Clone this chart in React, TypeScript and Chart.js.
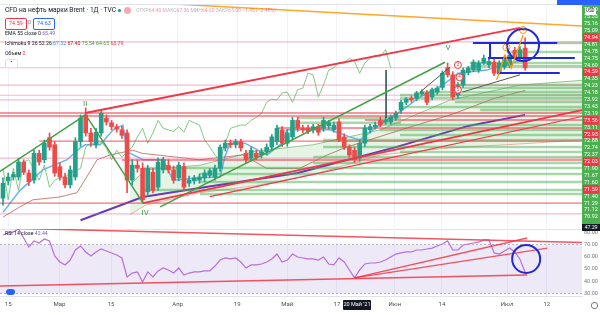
import { useEffect, useRef } from 'react';
import { Chart, registerables } from 'chart.js';

Chart.register(...registerables);
Chart.defaults.font.family = 'Roboto, sans-serif';

// ---------------- data ----------------
const X_MIN = -0.58;
const X_MAX = 112;
const P_MIN = 56.88;
const P_MAX = 86.02;

const opens = [60.8,63.0,63.5,63.5,65.4,64.0,63.1,66.5,65.7,68.5, 67.6,64.8,63.5,62.5,63.5,68.0,71.4,69.1,67.6,69.1, 71.0,70.4,69.9,69.5,69.1,63.1,65.0,64.6,61.6,64.1, 62.2,64.4,65.0,64.4,63.4,64.8,62.7,63.0,63.1,63.4, 63.7,63.5,64.6,67.2,67.8,67.6,68.0,66.5,65.9,66.5, 66.3,66.7,67.3,68.0,69.5,67.8,68.6,70.7,69.7,69.7, 69.5,69.9,69.7,70.0,69.5,70.5,68.6,67.3,66.9,65.9, 67.8,69.5,69.9,70.7,70.5,70.5,71.0,72.0,73.0,73.5, 73.5,74.1,74.2,73.7,74.3,74.9,77.4,76.5,73.9,75.2, 76.8,77.1,77.1,78.0,77.8,78.1,76.9,77.5,77.7,79.6, 78.6,79.9];
const highs = [63.4,64.0,64.1,65.9,65.7,64.4,66.9,66.9,68.2,69.1, 68.0,65.3,64.0,64.9,68.5,71.4,72.3,69.7,69.7,72.0, 71.4,70.7,70.2,69.9,69.5,65.7,65.7,65.3,65.0,64.6, 65.9,66.0,65.7,64.9,65.4,65.3,63.6,63.7,63.9,64.4, 64.6,65.0,67.6,68.2,68.2,68.3,68.3,66.9,67.3,66.9, 67.1,67.7,68.9,70.1,69.9,69.5,71.1,71.1,70.1,70.1, 70.2,70.2,71.1,70.7,70.5,70.9,69.0,67.6,67.3,68.2, 70.1,70.2,70.5,71.1,71.0,71.4,71.9,73.3,73.6,73.8, 74.4,74.6,74.5,74.8,75.0,77.0,78.0,76.9,75.5,77.4, 77.6,78.4,78.3,79.0,78.6,78.5,78.3,78.9,79.3,80.0, 80.1,81.2];
const lows = [59.9,62.5,63.1,63.1,63.8,62.4,62.7,65.0,65.3,66.9, 63.6,63.1,62.1,62.1,63.1,67.4,68.7,67.4,67.2,68.7, 70.1,69.5,69.2,68.4,61.5,62.5,64.1,60.2,61.1,61.5, 61.8,64.0,64.0,62.7,63.0,61.8,62.3,62.6,62.7,62.9, 63.4,63.1,64.2,66.8,67.2,67.2,66.8,65.3,65.5,65.7, 65.9,66.3,66.9,67.6,67.4,67.4,68.2,69.3,69.1,69.0, 69.1,68.8,69.3,69.6,69.2,68.0,67.0,66.0,65.3,65.5, 67.4,69.1,69.6,69.9,70.2,70.2,70.7,71.6,72.7,73.0, 73.2,73.9,72.7,73.3,74.0,74.6,76.2,73.3,73.5,74.9, 76.5,76.9,76.8,77.8,77.4,76.4,76.6,77.2,77.4,78.5, 78.3,77.1];
const closes = [62.7,63.5,63.8,65.4,64.1,62.9,66.5,65.4,67.8,67.3, 64.0,63.5,62.5,64.4,68.0,71.0,69.1,68.0,69.2,71.6, 70.5,69.9,69.6,68.8,63.1,65.0,64.6,60.6,64.6,61.8, 65.4,65.7,64.4,63.1,65.0,62.2,63.1,63.4,63.5,64.0, 64.3,64.6,67.3,67.8,67.6,68.0,67.2,65.7,66.9,66.0, 66.7,67.3,68.6,69.7,67.8,69.1,70.7,69.7,69.5,69.3, 69.9,69.2,70.7,70.4,70.1,68.2,67.3,66.3,65.7,67.8, 69.7,69.9,70.1,70.1,70.7,71.1,71.6,73.0,73.4,73.3, 74.2,74.3,73.0,74.6,74.8,76.7,76.5,73.7,75.2,77.1, 77.4,78.1,78.0,78.6,78.2,76.7,78.0,78.6,79.0,78.8, 79.7,77.4];

const rsi = [77.8,79.4,80.2,82.6,75.3,68.0,72.9,71.2,74.5,72.9, 60.6,55.7,53.3,57.3,65.5,68.8,63.9,60.6,63.9,66.3, 64.7,63.1,61.4,59.0,43.5,46.7,47.6,39.4,47.6,43.5, 48.4,50.8,49.2,46.7,50.8,45.1,46.7,47.6,47.6,48.4, 48.4,52.4,57.3,59.0,58.2,59.0,55.7,50.8,53.3,53.3, 54.1,55.7,58.2,62.2,55.7,57.3,62.2,59.8,59.0,58.2, 58.2,57.3,59.8,54.1,53.3,59.0,55.7,49.2,42.7,49.2, 54.1,54.9,54.9,55.7,57.3,59.8,62.2,63.1,63.9,63.9, 65.5,65.5,66.3,67.1,68.8,70.4,72.9,65.5,65.5,69.6, 70.4,71.2,72.0,73.7,73.7,63.1,62.2,64.7,67.1,63.9, 58.0,47.3];

const xTickIdx = [1, 10.9, 20.9, 33.8, 45.3, 55, 64.6, 75.8, 84.9, 97.5, 105.2];
const xTickLabels = ['15', 'Мар', '15', 'Апр', '19', 'Май', '17', 'Июн', '14', 'Июл', '12'];

const priceAxisLabels = ['75.40','75.33','75.16','75.09','74.94','74.81','74.78','74.75','74.69','74.59','74.35','74.23','74.18','73.92','73.43','73.19','73.56','73.11','72.93','72.88','72.74','72.37','72.03','71.90','71.67','71.60','71.59','71.40','71.29','71.12','70.92'];
const redLabelIdx = [4, 9, 16, 18, 22, 26];
const rsiTicks = [30, 40, 50, 60, 70, 80];

// indicator lines (index, price)
const emaPts = [[15,58.0],[27,60.95],[38,62.1],[57,64.0],[76,67.3],[90,70.0],[101,71.4]];
const tenkanPts = [[0,59.0],[3.3,61.8],[7.7,64.4],[12.4,65.7],[14.9,67.2],[15.9,67.6],[18.8,67.6],[21.3,69.5],[23.2,70.1],[24,66.7],[27.1,65.7],[30.9,65.7],[32.9,63.1],[38.1,63.4],[42,63.5],[42.9,66.0],[43.9,67.8],[46.8,67.8],[51.1,66.3],[54,67.8],[54.9,69.5],[63.2,69.5],[67.1,68.6],[69,68.2],[74.3,70.8],[76.8,71.8],[80.7,73.7],[85.1,75.2],[88,76.7],[93.6,77.1],[98,78.0],[101,78.4]];
const kijunPts = [[0,58.4],[3.3,59.7],[5.8,60.6],[11,60.95],[14.3,61.5],[16.2,63.5],[18.2,65.7],[20.7,66.3],[25.1,66.9],[27,66.5],[38,65.7],[46.4,66.3],[51,64.6],[57.4,64.6],[62.7,66.3],[66.5,67.3],[77,69.5],[87,71.5],[95,73.5],[101,74.5]];
const spanAPts = [[24.6,62.5],[27.5,64.4],[38.1,65.0],[49,66.8],[60,67.6],[73,69.5],[86.5,73.3],[100,75.2],[112,75.8]];
const spanBPts = [[24.6,58.7],[27.5,59.9],[38.1,61.5],[49,62.4],[60,63.8],[73,66.3],[86.5,67.2],[100,67.7],[112,68.2]];

// drawings
const pinkLevels = [80.7, 77.4, 75.2, 73.9, 73.3, 65.9, 58.8];
const redLevels = [[X_MIN,71.64],[X_MIN,71.26],[7,68.07],[23,65.66],[53,69.73],[X_MIN,60.18],[70,70.75]];
const greenLevels = [[87.4,112,75.20],[86.5,112,74.82],[80.7,112,74.31],[76.8,112,73.93],[76.8,112,73.55],[87.4,112,73.04],[76.8,112,72.40],[92.3,112,72.02],[72.9,112,70.11],[72.9,112,69.47],[76.8,112,68.84],[61.9,112,68.20],[61.9,112,67.31],[76.8,112,66.67],[60,112,66.04],[60,112,65.27],[27.1,112,64.64],[38.1,112,63.88],[38.1,112,62.86],[27.1,112,61.84],[38.1,112,61.33],[97.4,112,80.55],[97.4,112,79.4],[90.3,112,78.0],[90.3,112,77.6],[57,77,71.0],[57,77,70.4]];
const redTrends = [[[15.9,71.64],[100,82.46]],[[27.1,60.18],[112,72.02]],[[40,61.0],[112,71.2]]];
const greenTrends = [[[X_MIN,64.2],[15.9,71.38]],[[16.4,71.0],[27.1,60.18]],[[30.4,59.7],[85.5,78.1]]];
const orangeTrend = [[X_MIN,86.7],[112,82.71]];
const orangeZigzag = [[95.5,75.84],[97.1,79.02],[98.3,77.37],[100.6,81.56]];
const grayLines = [[[80.7,74.31],[86.5,77.5]],[[88.9,74.31],[100,76.5]]];
const darkVertical = [[74.1,71.0],[74.1,77.1]];
const blueLevels = [[90.9,107.2,80.55],[93.8,110.6,78.64],[95.6,107.7,76.73]];
const blueVertical = [[94.2,78.64],[94.2,80.55]];
const blueCircleMain = [100.6, 80.29];
const redMarks = [[88,77.75],[88.3,76.2],[88,74.6]];
const orangeMarks = [[97.4,80.0],[100.6,82.2]];

const annoText = ['II', 'IV', 'V', '2', '4', '5', '3', '5'];
const annoIdx = [15.9, 27.5, 86.1, 88, 88.3, 88, 97.4, 100.6];
const annoPrice = [72.8, 58.9, 79.9, 77.75, 76.2, 74.6, 80.0, 82.2];
const annoColor = ['#43a047', '#43a047', '#43a047', '#f23645', '#f23645', '#f23645', '#ff9800', '#ff9800'];

const rsiTopLine = [[X_MIN,83.5],[112,71.6]];
const rsiBottomLine = [[X_MIN,36.1],[101.4,45.1]];
const rsiFan = [[[68,42.7],[101.4,75.3]],[[68,42.7],[105.3,67.1]]];
const blueCircleRsi = [101.2, 58.2];

// ---------------- helpers ----------------
const UP = '#22a08a';
const DOWN = '#ef4a4a';
const GRID = '#f0f3fa';

const lineDs = (pts: number[][], color: string, width: number, extra: any = {}) => ({
  type: 'line',
  data: pts.map(([x, y]) => ({ x, y })),
  borderColor: color,
  borderWidth: width,
  pointRadius: 0,
  fill: false,
  tension: 0,
  order: 1,
  ...extra,
});

const circleDs = (pts: number[][], r: number, color: string, bw: number, bg = 'rgba(0,0,0,0)') => ({
  type: 'scatter',
  data: pts.map(([x, y]) => ({ x, y })),
  pointRadius: r,
  pointBorderColor: color,
  pointBorderWidth: bw,
  pointBackgroundColor: bg,
  borderColor: color,
  backgroundColor: bg,
  order: 0,
});

const axisBg = {
  id: 'axisBg',
  beforeDraw(chart: any) {
    const s = chart.scales.yLab;
    if (!s) return;
    const ctx = chart.ctx;
    ctx.save();
    ctx.fillStyle = '#4caf50';
    ctx.fillRect(s.left, 0, s.right - s.left, chart.height);
    ctx.restore();
  },
};

const annoPlugin = {
  id: 'annoText',
  afterDatasetsDraw(chart: any) {
    const { ctx } = chart;
    const x = chart.scales.x;
    const y = chart.scales.y;
    ctx.save();
    ctx.textAlign = 'center';
    ctx.textBaseline = 'middle';
    annoText.forEach((t, k) => {
      ctx.fillStyle = annoColor[k];
      ctx.font = (k < 3 ? '8px' : '5px') + ' Roboto, sans-serif';
      ctx.fillText(t, x.getPixelForValue(annoIdx[k]), y.getPixelForValue(annoPrice[k]));
    });
    ctx.restore();
  },
};

const txt: any = { position: 'absolute', fontFamily: 'Roboto, sans-serif', whiteSpace: 'nowrap', lineHeight: 1 };

export default function App() {
  const mainRef = useRef<HTMLCanvasElement>(null);
  const rsiRef = useRef<HTMLCanvasElement>(null);

  useEffect(() => {
    document.body.style.margin = '0';
    const color = (c: any) => (closes[c.dataIndex] >= opens[c.dataIndex] ? UP : DOWN);

    const ds: any[] = [];
    ds.push(lineDs(spanAPts, 'rgba(67,160,71,0.55)', 1, { fill: '+1', backgroundColor: 'rgba(76,175,80,0.14)', order: 6 }));
    ds.push(lineDs(spanBPts, 'rgba(239,83,80,0.45)', 1, { order: 6 }));
    ds.push(lineDs(closes.slice(26).map((c, k) => [k, c]), 'rgba(102,187,106,0.8)', 1, { order: 5 }));
    ds.push(lineDs(kijunPts, 'rgba(176,90,80,0.75)', 1, { order: 5 }));
    ds.push(lineDs(tenkanPts, '#64b5f6', 1.5, { order: 5 }));
    ds.push(lineDs(emaPts, '#673ab7', 2, { order: 5 }));
    pinkLevels.forEach((v) => ds.push(lineDs([[X_MIN, v], [X_MAX, v]], 'rgba(240,98,146,0.45)', 1.2, { order: 4 })));
    redLevels.forEach(([s, v]) => ds.push(lineDs([[s, v], [X_MAX, v]], 'rgba(242,54,69,0.7)', 1.3, { order: 4 })));
    greenLevels.forEach(([s, e, v]) => ds.push(lineDs([[s, v], [e, v]], 'rgba(76,175,80,0.5)', 2.5, { order: 4 })));
    ds.push({ type: 'bar', data: highs.map((h, i) => ({ x: i, y: [lows[i], h] })), backgroundColor: color, barThickness: 1, grouped: false, order: 3 });
    ds.push({ type: 'bar', data: opens.map((o, i) => ({ x: i, y: [o, closes[i]] })), backgroundColor: color, barThickness: 4, minBarLength: 1, grouped: false, order: 2 });
    ds.push(lineDs(orangeTrend, '#ffa726', 1.5, { order: 0 }));
    redTrends.forEach((p, k) => ds.push(lineDs(p, '#f23645', k === 2 ? 1.2 : 1.8, { order: 0 })));
    greenTrends.forEach((p) => ds.push(lineDs(p, '#43a047', 1.5, { order: 0 })));
    grayLines.forEach((p) => ds.push(lineDs(p, '#555', 1, { order: 0 })));
    ds.push(lineDs(orangeZigzag, '#ff9800', 1.3, { order: 0 }));
    ds.push(lineDs(darkVertical, '#1e4d4a', 1.5, { order: 0 }));
    blueLevels.forEach(([s, e, v]) => ds.push(lineDs([[s, v], [e, v]], '#2329d9', 2, { order: 0 })));
    ds.push(lineDs(blueVertical, '#2329d9', 2, { order: 0 }));
    ds.push(circleDs([blueCircleMain], 16, '#2329d9', 2));
    ds.push(circleDs(redMarks, 3.5, '#f23645', 1, '#fff'));
    ds.push(circleDs(orangeMarks, 3.5, '#ff9800', 1, '#fff'));

    const zeroPad = (s: any) => { s.paddingLeft = 0; s.paddingRight = 0; s.paddingTop = 0; s.paddingBottom = 0; };

    const main = new Chart(mainRef.current!, {
      type: 'bar',
      data: { datasets: ds },
      plugins: [axisBg, annoPlugin],
      options: {
        responsive: false, animation: false, devicePixelRatio: 1, events: [],
        layout: { padding: 0, autoPadding: false },
        plugins: { legend: { display: false }, tooltip: { enabled: false } },
        scales: {
          x: {
            type: 'linear', min: X_MIN, max: X_MAX, offset: false,
            grid: { color: GRID, offset: false, drawTicks: false }, border: { display: false },
            ticks: { display: false },
            afterBuildTicks: (s: any) => { s.ticks = xTickIdx.map((v) => ({ value: v })); },
            afterFit: (s: any) => { s.height = 0; zeroPad(s); },
          },
          y: { type: 'linear', display: false, min: P_MIN, max: P_MAX },
          yLab: {
            type: 'linear', position: 'right', reverse: true, min: -1.449, max: 31.74,
            grid: { display: false, drawTicks: false }, border: { display: false },
            afterBuildTicks: (s: any) => { s.ticks = priceAxisLabels.map((_, k) => ({ value: k })); },
            afterFit: (s: any) => { s.width = 18; zeroPad(s); },
            ticks: {
              autoSkip: false, padding: 2, color: '#ffffff', font: { size: 5.5 },
              callback: (_v: any, i: number) => priceAxisLabels[i],
              showLabelBackdrop: (c: any) => redLabelIdx.includes(c.index),
              backdropColor: '#f23645', backdropPadding: 1,
            },
          },
        },
      } as any,
    } as any);

    const rds: any[] = [];
    rds.push(lineDs([[X_MIN, 70], [X_MAX, 70]], '#b2b5be', 1, { borderDash: [2, 2], fill: '+1', backgroundColor: 'rgba(126,87,194,0.13)', order: 5 }));
    rds.push(lineDs([[X_MIN, 30], [X_MAX, 30]], '#b2b5be', 1, { borderDash: [2, 2], order: 5 }));
    rds.push(lineDs(rsi.map((v, i) => [i, v]), '#b86fd8', 1.2, { order: 2 }));
    rds.push(lineDs(rsiTopLine, 'rgba(242,54,69,0.85)', 1.5, { order: 1 }));
    rds.push(lineDs(rsiBottomLine, 'rgba(242,54,69,0.85)', 1.5, { order: 1 }));
    rsiFan.forEach((p) => rds.push(lineDs(p, 'rgba(242,54,69,0.85)', 1.3, { order: 1 })));
    rds.push(circleDs([blueCircleRsi], 14, '#2329d9', 2));

    const rsiChart = new Chart(rsiRef.current!, {
      type: 'line',
      data: { datasets: rds },
      options: {
        responsive: false, animation: false, devicePixelRatio: 1, events: [],
        layout: { padding: 0, autoPadding: false },
        plugins: { legend: { display: false }, tooltip: { enabled: false } },
        scales: {
          x: {
            type: 'linear', min: X_MIN, max: X_MAX,
            grid: { color: GRID, drawTicks: false }, border: { display: true, color: '#e0e3eb' },
            afterBuildTicks: (s: any) => { s.ticks = xTickIdx.map((v) => ({ value: v })); },
            afterFit: (s: any) => { s.height = 19; zeroPad(s); },
            ticks: { autoSkip: false, maxRotation: 0, padding: 5, color: '#4a4e5a', font: { size: 6 }, callback: (_v: any, i: number) => xTickLabels[i] },
          },
          y: {
            type: 'linear', position: 'right', min: 27.96, max: 82.65,
            grid: { display: false, drawTicks: false }, border: { display: false },
            afterBuildTicks: (s: any) => { s.ticks = rsiTicks.map((v) => ({ value: v })); },
            afterFit: (s: any) => { s.width = 18; zeroPad(s); },
            ticks: { autoSkip: false, padding: 2, color: '#787b86', font: { size: 5.5 }, callback: (v: any) => Number(v).toFixed(2) },
          },
        },
      } as any,
    } as any);

    return () => { main.destroy(); rsiChart.destroy(); };
  }, []);

  return (
    <div style={{ position: 'relative', width: 600, height: 315, background: '#fff', overflow: 'hidden' }}>
      <canvas ref={mainRef} width={600} height={229} style={{ position: 'absolute', left: 0, top: 0 }} />
      <div style={{ position: 'absolute', left: 0, top: 229, width: 600, height: 1, background: '#e0e3eb' }} />
      <canvas ref={rsiRef} width={600} height={86} style={{ position: 'absolute', left: 0, top: 229 }} />

      {/* top toolbar strip */}
      <div style={{ position: 'absolute', left: 0, top: 0, width: 600, height: 4, background: '#fff', borderBottom: '1px solid #e0e3eb' }} />
      <div style={{ position: 'absolute', left: 557, top: 0, width: 43, height: 5, background: '#2962ff' }} />
      <div style={{ ...txt, left: 585, top: 8, fontSize: 4.5, color: '#131722', background: '#fff', padding: '1px 1px' }}>USD</div>

      {/* legend rows */}
      <div style={{ ...txt, left: 5, top: 7, fontSize: 6.6, color: '#131722' }}>CFD на нефть марки Brent · 1Д · TVC</div>
      <div style={{ position: 'absolute', left: 118, top: 9, width: 3, height: 3, borderRadius: 2, background: '#089981' }} />
      <div style={{ position: 'absolute', left: 124, top: 7, width: 7, height: 7, borderRadius: 4, background: '#f7a8b8' }} />
      <div style={{ ...txt, left: 136, top: 8, fontSize: 5, color: '#f23645', opacity: 0.55 }}>
        <span style={{ color: '#787b86' }}>ОТКР</span>64.40 <span style={{ color: '#787b86' }}>МАКС</span>67.36 <span style={{ color: '#787b86' }}>МИН</span>64.60 <span style={{ color: '#787b86' }}>ЗАКР</span>65.00 −1.45 (−2.48%)
      </div>
      <div style={{ ...txt, left: 5, top: 18, fontSize: 5.5, color: '#f23645', border: '1px solid #f23645', borderRadius: 2, padding: '2px 3px', background: '#fff' }}>74.59</div>
      <div style={{ ...txt, left: 28, top: 20, fontSize: 5.5, color: '#787b86' }}>0</div>
      <div style={{ ...txt, left: 33, top: 18, fontSize: 5.5, color: '#2962ff', border: '1px solid #2962ff', borderRadius: 2, padding: '2px 3px', background: '#fff' }}>74.63</div>
      <div style={{ ...txt, left: 5, top: 31, fontSize: 5.2, color: '#131722' }}>EMA 55 close 0 <span style={{ color: '#7e57c2' }}>65.49</span></div>
      <div style={{ ...txt, left: 5, top: 41, fontSize: 5.2, color: '#131722' }}>
        Ichimoku 9 26 52 26 <span style={{ color: '#2196f3' }}>67.32</span> <span style={{ color: '#b71c1c' }}>67.40</span> <span style={{ color: '#43a047' }}>75.54</span> <span style={{ color: '#43a047' }}>64.65</span> <span style={{ color: '#f23645' }}>63.79</span>
      </div>
      <div style={{ ...txt, left: 5, top: 51, fontSize: 5.2, color: '#131722' }}>Объем <span style={{ color: '#f23645' }}>0</span></div>
      <div style={{ ...txt, left: 5, top: 59, width: 11, height: 7, border: '1px solid #e0e3eb', borderRadius: 2, background: '#fff', fontSize: 6, color: '#131722', textAlign: 'center' }}>ˆ</div>

      {/* rsi pane */}
      <div style={{ ...txt, left: 5, top: 231, fontSize: 5.2, color: '#131722' }}>RSI 14 close <span style={{ color: '#7e57c2' }}>42.44</span></div>
      <div style={{ ...txt, left: 582, top: 224, width: 18, fontSize: 5.2, color: '#fff', background: '#131722', padding: '1px 0', textAlign: 'center' }}>47.29</div>
      <div style={{ position: 'absolute', left: 6, top: 289, width: 9, height: 6, borderRadius: 3, background: '#2962ff' }} />

      {/* bottom axis badge */}
      <div style={{ ...txt, left: 343, top: 300, width: 28, fontSize: 5.5, color: '#fff', background: '#131722', padding: '2px 0', textAlign: 'center', borderRadius: 1 }}>20 Май '21</div>
      <div style={{ position: 'absolute', left: 591, top: 302, width: 5, height: 5, borderRadius: 3, border: '1px solid #787b86' }} />
    </div>
  );
}
